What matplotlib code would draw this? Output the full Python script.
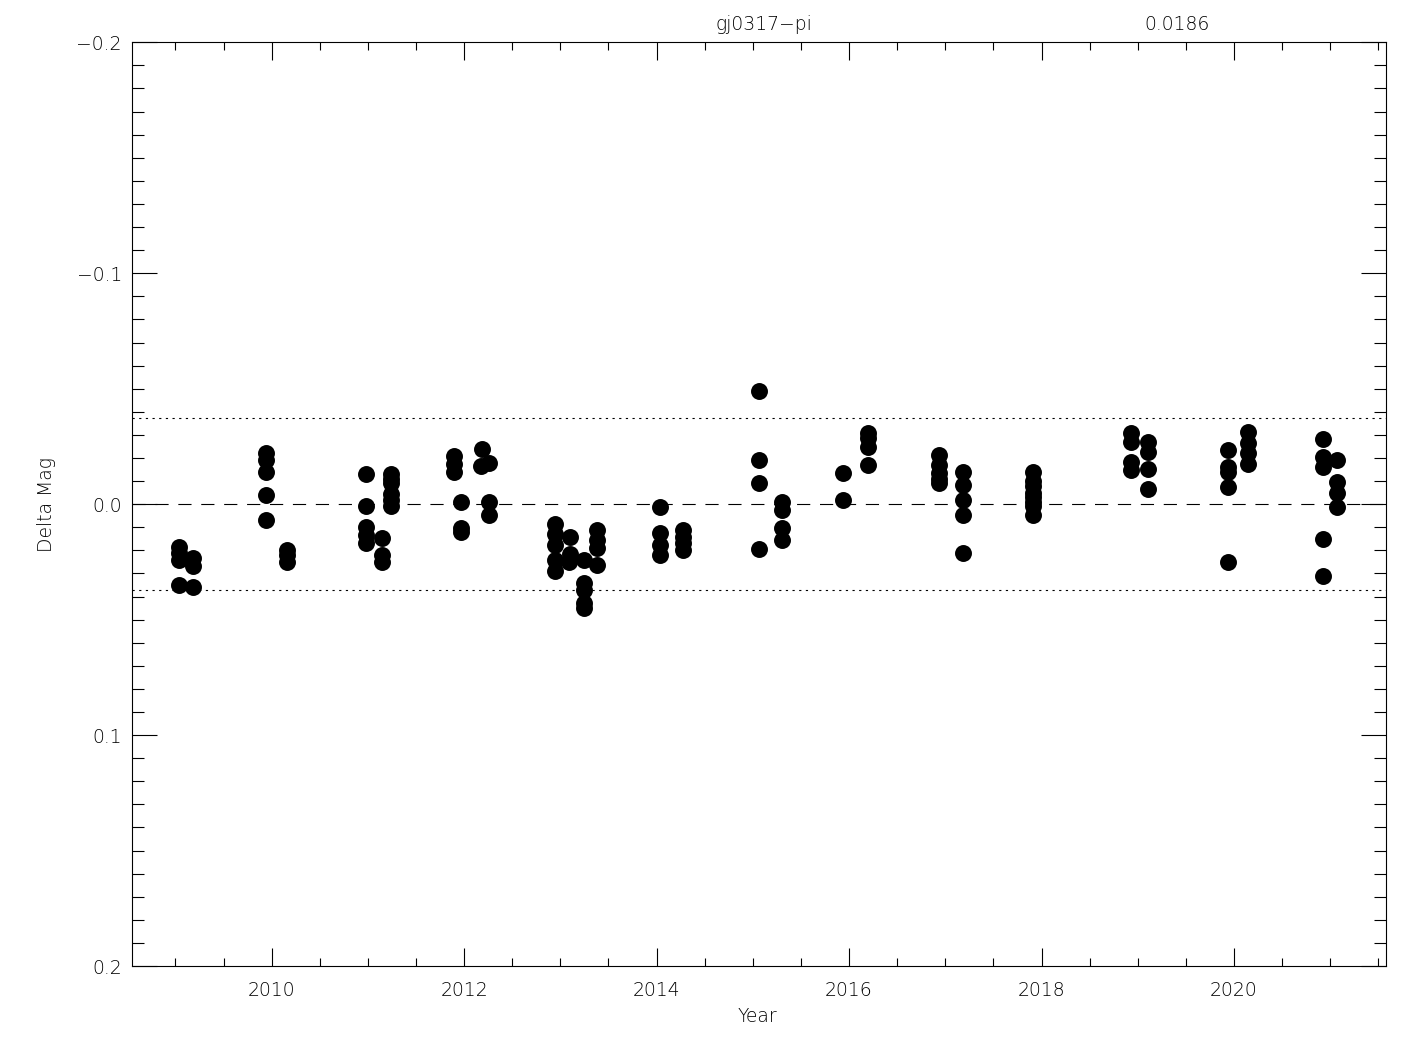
import matplotlib
matplotlib.use("Agg")
import matplotlib.pyplot as plt
from matplotlib.ticker import MultipleLocator, FixedLocator

plt.rcParams['font.family'] = ['DejaVu Sans']
plt.rcParams['font.weight'] = 200
plt.rcParams['lines.scale_dashes'] = False

# ---- data ----
year = [
    2009.04, 2009.04, 2009.04, 2009.04,
    2009.18, 2009.18, 2009.18,
    2009.94, 2009.94, 2009.94, 2009.94, 2009.94,
    2010.16, 2010.16, 2010.16,
    2010.98, 2010.98, 2010.98, 2010.98, 2010.98,
    2011.15, 2011.15, 2011.15,
    2011.24, 2011.24, 2011.24, 2011.24, 2011.24, 2011.24,
    2011.89, 2011.89, 2011.89,
    2011.97, 2011.97, 2011.97,
    2012.19, 2012.17,
    2012.26, 2012.26, 2012.26,
    2012.94, 2012.94, 2012.94, 2012.94, 2012.94,
    2013.10, 2013.10, 2013.09,
    2013.25, 2013.25, 2013.25, 2013.25, 2013.25,
    2013.38, 2013.38, 2013.38, 2013.38,
    2014.04, 2014.04, 2014.04, 2014.04,
    2014.27, 2014.27, 2014.27, 2014.27,
    2015.06, 2015.06, 2015.06, 2015.06,
    2015.30, 2015.30, 2015.30, 2015.30,
    2015.94, 2015.94,
    2016.20, 2016.20, 2016.20, 2016.20,
    2016.93, 2016.93, 2016.93, 2016.93, 2016.93,
    2017.18, 2017.18, 2017.18, 2017.18, 2017.18,
    2017.91, 2017.91, 2017.91, 2017.91, 2017.91, 2017.91, 2017.91, 2017.91,
    2018.93, 2018.93, 2018.93, 2018.93,
    2019.11, 2019.11, 2019.11, 2019.11,
    2019.94, 2019.94, 2019.94, 2019.94, 2019.94,
    2020.15, 2020.15, 2020.15, 2020.15,
    2020.93, 2020.93, 2020.93, 2020.93, 2020.93,
    2021.07, 2021.07, 2021.07, 2021.07,
]
dmag = [
    0.0185, 0.021, 0.0242, 0.035,
    0.0235, 0.027, 0.036,
    -0.022, -0.019, -0.014, -0.004, 0.007,
    0.020, 0.022, 0.025,
    -0.013, 0.001, 0.0098, 0.0134, 0.017,
    0.0146, 0.022, 0.025,
    -0.013, -0.011, -0.009, -0.0046, -0.0017, 0.001,
    -0.021, -0.0176, -0.014,
    -0.001, 0.0105, 0.012,
    -0.0237, -0.0165,
    -0.018, -0.001, 0.0048,
    0.0084, 0.0128, 0.0178, 0.024, 0.029,
    0.0141, 0.0214, 0.025,
    0.024, 0.034, 0.037, 0.043, 0.045,
    0.011, 0.0156, 0.019, 0.0264,
    0.0012, 0.0127, 0.0177, 0.022,
    0.0113, 0.0143, 0.0169, 0.0199,
    -0.049, -0.019, -0.009, 0.0195,
    -0.001, 0.0026, 0.0105, 0.0156,
    -0.0136, -0.002,
    -0.0306, -0.0285, -0.0248, -0.0169,
    -0.0212, -0.0169, -0.0133, -0.011, -0.009,
    -0.014, -0.0082, -0.0017, 0.0048, 0.0213,
    -0.014, -0.010, -0.008, -0.005, -0.003, -0.001, 0.001, 0.0048,
    -0.0306, -0.027, -0.0183, -0.0147,
    -0.027, -0.0226, -0.0154, -0.0064,
    -0.0234, -0.0162, -0.014, -0.0075, 0.0252,
    -0.0313, -0.0263, -0.022, -0.0176,
    -0.028, -0.0205, -0.0162, 0.0149, 0.0312,
    -0.019, -0.0097, -0.0049, 0.0012,
]
sigma = 0.0186
star_name = "gj0317\u2212pi"
x_ticks = [2010, 2012, 2014, 2016, 2018, 2020]
y_ticks = [-0.2, -0.1, 0.0, 0.1, 0.2]
y_ticklabels = ["\u22120.2", "\u22120.1", "0.0", "0.1", "0.2"]

# ---- figure ----
W, H = 1425, 1050
fig = plt.figure(figsize=(W / 100, H / 100), dpi=100)
ax = fig.add_axes([131.7 / W, 1 - 966 / H, (1385.7 - 131.7) / W, (966 - 42.3) / H])

ax.plot(year, dmag, 'o', color='black', markersize=12.2, markeredgewidth=0, zorder=3)

xlim = (2008.545, 2021.577)
ax.set_xlim(*xlim)
ax.set_ylim(0.2, -0.2)

lw = 0.8
ax.axhline(0.0, color='black', lw=lw, dashes=(9.5, 7.0), zorder=2)
ax.axhline(2 * sigma, color='black', lw=lw, dashes=(1.6, 3.2), zorder=2)
ax.axhline(-2 * sigma, color='black', lw=lw, dashes=(1.6, 3.2), zorder=2)

ax.xaxis.set_major_locator(FixedLocator(x_ticks))
ax.xaxis.set_minor_locator(MultipleLocator(0.5))
ax.yaxis.set_major_locator(FixedLocator(y_ticks))
ax.yaxis.set_minor_locator(MultipleLocator(0.01))
ax.set_xticklabels([str(t) for t in x_ticks])
ax.set_yticklabels(y_ticklabels)

fs = 13.5
ax.tick_params(axis='x', which='major', direction='in', length=12.7, width=lw,
               top=True, bottom=True, labelsize=fs, pad=11)
ax.tick_params(axis='x', which='minor', direction='in', length=5.6, width=lw,
               top=True, bottom=True)
ax.tick_params(axis='y', which='major', direction='in', length=18, width=lw,
               left=True, right=True, labelsize=fs, pad=7)
ax.tick_params(axis='y', which='minor', direction='in', length=8.4, width=lw,
               left=True, right=True)
for s in ax.spines.values():
    s.set_linewidth(lw)

fig.text(757 / W, 1 - 1017 / H, "Year", ha='center', va='center', fontsize=fs)
fig.text(47 / W, 1 - 504 / H, "Delta Mag", ha='center', va='center',
         rotation=90, fontsize=fs)
fig.text(764 / W, 1 - 24 / H, star_name, ha='center', va='center', fontsize=fs)
fig.text(1177 / W, 1 - 24 / H, f"{sigma:.4f}", ha='center', va='center', fontsize=fs)

fig.savefig("out.png", dpi=100, facecolor='white')
